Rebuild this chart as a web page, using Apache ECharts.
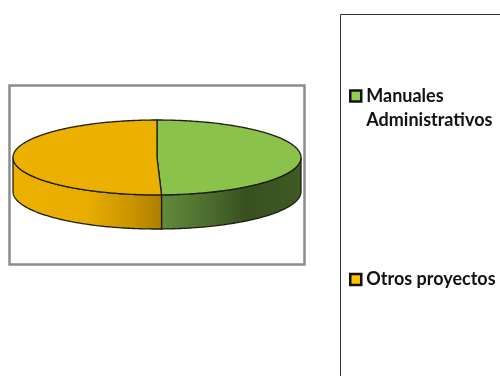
<!DOCTYPE html>
<html>
<head>
<meta charset="utf-8">
<style>html,body{margin:0;padding:0;background:#fff}#chart{width:500px;height:376px}</style>
<script src="https://cdn.jsdelivr.net/npm/echarts@6/dist/echarts.min.js"></script>
</head>
<body>
<div id="chart"></div>
<script>
// Project share per category, in percent
const categories = ['Manuales Administrativos', 'Otros proyectos'];
const values = [49.5, 50.5];
const topColors = ['#8bc24c', '#ecb000'];
const legendColors = ['#92d050', '#ffc000'];
const sideStops = [
  [[0, '#628a3c'], [0.35, '#4c6c2e'], [0.6, '#385020'], [1, '#3f5a24']],
  [[0, '#ecb000'], [0.5, '#e8ad00'], [0.8, '#c99400'], [1, '#ae7e00']]
];
const thickness = 0.91;   // height of the disc wall, in ellipse radii
const outline = '#1e1e10';

const total = values.reduce((a, b) => a + b, 0);
const ranges = [];
values.reduce((start, v) => {
  ranges.push([start / total, (start + v) / total]);
  return start + v;
}, 0);

function rim(api, from, to, drop) {
  const steps = Math.max(2, Math.ceil((to - from) * 60));
  const pts = [];
  for (let i = 0; i <= steps; i++) {
    const t = from + (to - from) * i / steps;
    pts.push(api.coord([Math.sin(t), Math.cos(t) - drop]));
  }
  return pts;
}

// Flat-shaded slice of a tilted disc: front wall first, then the top face
function sliceRenderer(index) {
  return function (params, api) {
    const a = api.value(0) * 2 * Math.PI;
    const b = api.value(1) * 2 * Math.PI;
    const children = [];
    const wallFrom = Math.max(a, Math.PI / 2);
    const wallTo = Math.min(b, Math.PI * 1.5);
    if (wallTo > wallFrom) {
      const upper = rim(api, wallFrom, wallTo, 0);
      const lower = rim(api, wallFrom, wallTo, thickness).reverse();
      children.push({
        type: 'polygon',
        shape: { points: upper.concat(lower) },
        style: {
          fill: {
            type: 'linear', x: 0, y: 0, x2: 1, y2: 0,
            colorStops: sideStops[index].map(s => ({ offset: s[0], color: s[1] }))
          },
          stroke: outline, lineWidth: 1.3
        }
      });
    }
    const face = [api.coord([0, 0])].concat(rim(api, a, b, 0));
    children.push({
      type: 'polygon',
      shape: { points: face },
      style: { fill: topColors[index], stroke: outline, lineWidth: 1.3 }
    });
    return { type: 'group', children };
  };
}

// The first entry has two text lines, so its square sits in the top of a taller box
const legendIcon = 'path://M0 0H11V11H0Z M0 35L0 35.01';
const squareIcon = 'path://M0 0H11V11H0Z';
const legendText = { fontFamily: 'Lato', fontWeight: 'bold', fontSize: 18, color: '#111', lineHeight: 24 };
const legendEntry = i => ({
  name: categories[i],
  itemStyle: { color: legendColors[i], borderColor: '#111', borderWidth: 2.5 }
});

const chart = echarts.init(document.getElementById('chart'), null, { renderer: 'canvas' });
chart.setOption({
  animation: false,
  backgroundColor: '#ffffff',
  grid: { left: 13, right: 199, top: 120, height: 109, containLabel: false },
  xAxis: { type: 'value', min: -1, max: 1, show: false },
  yAxis: { type: 'value', min: -1 - thickness, max: 1, show: false },
  graphic: [
    {
      type: 'rect', silent: true, z: -1,
      shape: { x: 9.5, y: 85.5, width: 295, height: 179 },
      style: { fill: '#ffffff', stroke: '#8c8c8c', lineWidth: 2.5 }
    },
    {
      type: 'rect', silent: true, z: -1,
      shape: { x: 340.5, y: 14.5, width: 200, height: 400 },
      style: { fill: '#ffffff', stroke: '#333333', lineWidth: 1 }
    }
  ],
  legend: [
    {
      data: [legendEntry(0)], left: 349, top: 84, padding: 0,
      itemWidth: 11, itemHeight: 35, icon: legendIcon,
      formatter: () => 'Manuales\nAdministrativos',
      textStyle: legendText,
      selectedMode: false
    },
    {
      data: [legendEntry(1)], left: 349, top: 267.5, padding: 0,
      itemWidth: 11, itemHeight: 11, icon: squareIcon,
      textStyle: legendText,
      selectedMode: false
    }
  ],
  series: categories.map((name, i) => ({
    type: 'custom',
    name,
    coordinateSystem: 'cartesian2d',
    clip: false,
    silent: true,
    encode: { x: 0, y: 1 },
    renderItem: sliceRenderer(i),
    itemStyle: { color: legendColors[i] },
    data: [ranges[i]]
  }))
});
</script>
</body>
</html>
